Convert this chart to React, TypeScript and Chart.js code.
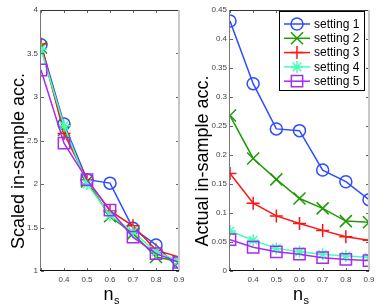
import React, { useEffect, useRef } from "react";
import { Chart, registerables } from "chart.js";
import { drawPoint } from "chart.js/helpers";

Chart.register(...registerables);

const ns = [0.3, 0.4, 0.5, 0.6, 0.7, 0.8, 0.9];
const xTicks = [0.3, 0.4, 0.5, 0.6, 0.7, 0.8, 0.9];
const leftYTicks = [1, 1.5, 2, 2.5, 3, 3.5, 4];
const rightYTicks = [0, 0.05, 0.1, 0.15, 0.2, 0.25, 0.3, 0.35, 0.4, 0.45];

const seriesNames = ["setting 1", "setting 2", "setting 3", "setting 4", "setting 5"];

const scaled1 = [3.6, 2.69, 2.05, 2.01, 1.49, 1.3, 1.02];
const scaled2 = [3.57, 2.62, 2.03, 1.63, 1.43, 1.16, 1.11];
const scaled3 = [3.61, 2.58, 2.05, 1.69, 1.52, 1.24, 1.16];
const scaled4 = [3.55, 2.67, 2.0, 1.64, 1.45, 1.22, 1.12];
const scaled5 = [3.31, 2.47, 2.05, 1.7, 1.39, 1.2, 1.1];

const actual1 = [0.431, 0.323, 0.245, 0.242, 0.174, 0.154, 0.123];
const actual2 = [0.268, 0.194, 0.158, 0.125, 0.108, 0.086, 0.084];
const actual3 = [0.168, 0.117, 0.095, 0.082, 0.07, 0.059, 0.053];
const actual4 = [0.069, 0.053, 0.039, 0.033, 0.029, 0.026, 0.0235];
const actual5 = [0.054, 0.041, 0.033, 0.029, 0.023, 0.02, 0.018];

const colors = ["#2d4dff", "#1f9a05", "#ff1414", "#45ffb5", "#a52cf5"];
const styles = ["circle", "crossRot", "cross", "star", "rect"];
const radii = [6, 8.5, 6.5, 6, 8];

const FONT = "'Liberation Sans', Arial, sans-serif";

function makeDatasets(series: number[][]) {
  return series.map((vals, i) => ({
    label: seriesNames[i],
    data: ns.map((x, j) => ({ x, y: vals[j] })),
    borderColor: colors[i],
    backgroundColor: "rgba(0,0,0,0)",
    borderWidth: 1.5,
    pointStyle: styles[i],
    pointRadius: radii[i],
    pointBorderColor: colors[i],
    pointBackgroundColor: "rgba(0,0,0,0)",
    pointBorderWidth: 1.5,
    tension: 0,
    order: 5 - i,
  }));
}

function decorPlugin(yTitle: string, titleBaseX: number, showLegend: boolean) {
  return {
    id: "decor",
    afterDraw(chart: any) {
      const ctx = chart.ctx;
      const { left, right, top, bottom } = chart.chartArea;
      const xs = chart.scales.x;
      const ys = chart.scales.y;
      ctx.save();
      ctx.strokeStyle = "#666";
      ctx.lineWidth = 1;
      ctx.beginPath();
      xTicks.forEach((v) => {
        const px = Math.round(xs.getPixelForValue(v)) + 0.5;
        ctx.moveTo(px, bottom);
        ctx.lineTo(px, bottom - 3);
        ctx.moveTo(px, top);
        ctx.lineTo(px, top + 3);
      });
      ys.ticks.forEach((t: any) => {
        const py = Math.round(ys.getPixelForValue(t.value)) + 0.5;
        ctx.moveTo(left, py);
        ctx.lineTo(left + 3, py);
        ctx.moveTo(right, py);
        ctx.lineTo(right - 3, py);
      });
      ctx.stroke();
      ctx.strokeStyle = "#333";
      ctx.beginPath();
      ctx.moveTo(left, top + 0.5);
      ctx.lineTo(right, top + 0.5);
      ctx.stroke();
      ctx.strokeStyle = "#c8c8c8";
      ctx.lineWidth = 2;
      ctx.beginPath();
      ctx.moveTo(right, top);
      ctx.lineTo(right, bottom);
      ctx.stroke();
      ctx.lineWidth = 1;
      ctx.strokeStyle = "#777";
      ctx.beginPath();
      ctx.moveTo(left - 0.5, top);
      ctx.lineTo(left - 0.5, bottom);
      ctx.stroke();
      ctx.strokeStyle = "#111";
      ctx.beginPath();
      ctx.moveTo(left - 1, bottom - 0.5);
      ctx.lineTo(right, bottom - 0.5);
      ctx.stroke();
      ctx.fillStyle = "#000";
      ctx.font = `18px ${FONT}`;
      ctx.textAlign = "center";
      ctx.textBaseline = "alphabetic";
      ctx.save();
      ctx.translate(titleBaseX, 161);
      ctx.rotate(-Math.PI / 2);
      ctx.fillText(yTitle, 0, 0);
      ctx.restore();
      const cx = (left + right) / 2;
      ctx.textAlign = "left";
      ctx.font = `18px ${FONT}`;
      const nw = ctx.measureText("n").width;
      const nx = cx - 6.5;
      ctx.fillText("n", nx, 300);
      ctx.font = `11px ${FONT}`;
      ctx.fillText("s", nx + nw + 0.5, 304);
      if (showLegend) {
        const bx = 88.5, by = 11.5, bw = 85, bh = 79;
        ctx.fillStyle = "#fff";
        ctx.fillRect(bx, by, bw, bh);
        ctx.strokeStyle = "#000";
        ctx.lineWidth = 1;
        ctx.strokeRect(bx, by, bw, bh);
        ctx.font = `12px ${FONT}`;
        ctx.textBaseline = "middle";
        ctx.textAlign = "left";
        seriesNames.forEach((name, i) => {
          const ry = 24 + i * 14.3;
          ctx.strokeStyle = colors[i];
          ctx.lineWidth = 1.5;
          ctx.beginPath();
          ctx.moveTo(93, ry);
          ctx.lineTo(119, ry);
          ctx.stroke();
          ctx.fillStyle = "rgba(0,0,0,0)";
          drawPoint(
            ctx,
            { pointStyle: styles[i], radius: radii[i], rotation: 0, borderWidth: 1.5 } as any,
            106,
            ry
          );
          ctx.fillStyle = "#000";
          ctx.fillText(name, 123, ry + 0.5);
        });
      }
      ctx.restore();
    },
  };
}

function makeChart(
  canvas: HTMLCanvasElement,
  series: number[][],
  yTicks: number[],
  yMin: number,
  yMax: number,
  yWidth: number,
  padRight: number,
  yTitle: string,
  titleBaseX: number,
  showLegend: boolean
) {
  return new Chart(canvas, {
    type: "line",
    data: { datasets: makeDatasets(series) as any },
    options: {
      animation: false,
      responsive: false,
      maintainAspectRatio: false,
      layout: { padding: { left: 0, top: 8, right: padRight, bottom: 0 } },
      plugins: { legend: { display: false }, tooltip: { enabled: false } },
      scales: {
        x: {
          type: "linear",
          min: 0.3,
          max: 0.9,
          grid: { display: false, drawTicks: false },
          border: { display: false },
          afterBuildTicks: (s: any) => {
            s.ticks = xTicks.map((v) => ({ value: v }));
          },
          afterFit: (s: any) => {
            s.height = 35;
          },
          ticks: {
            autoSkip: false,
            maxRotation: 0,
            padding: 4,
            color: "#444",
            font: { size: 8, family: FONT },
            callback: (v: any) => (v === 0.3 ? "" : Number(v).toFixed(1)),
          },
        },
        y: {
          type: "linear",
          min: yMin,
          max: yMax,
          grid: { display: false, drawTicks: false },
          border: { display: false },
          afterBuildTicks: (s: any) => {
            s.ticks = yTicks.map((v) => ({ value: v }));
          },
          afterFit: (s: any) => {
            s.width = yWidth;
          },
          ticks: {
            autoSkip: false,
            padding: 3,
            color: "#444",
            font: { size: 8, family: FONT },
            callback: (v: any) => String(v),
          },
        },
      },
    } as any,
    plugins: [decorPlugin(yTitle, titleBaseX, showLegend)],
  });
}

export default function App() {
  const leftRef = useRef<HTMLCanvasElement>(null);
  const rightRef = useRef<HTMLCanvasElement>(null);
  useEffect(() => {
    const c1 = makeChart(
      leftRef.current!,
      [scaled1, scaled2, scaled3, scaled4, scaled5],
      leftYTicks, 1, 4, 41, 12, "Scaled in-sample acc.", 24, false
    );
    const c2 = makeChart(
      rightRef.current!,
      [actual1, actual2, actual3, actual4, actual5],
      rightYTicks, 0, 0.45, 39, 13, "Actual in-sample acc.", 16.5, true
    );
    return () => {
      c1.destroy();
      c2.destroy();
    };
  }, []);
  return (
    <div
      style={{
        position: "fixed",
        left: 0,
        top: 0,
        width: 382,
        height: 306,
        display: "flex",
        background: "#fff",
      }}
    >
      <canvas ref={leftRef} width={191} height={306} style={{ width: 191, height: 306 }} />
      <canvas ref={rightRef} width={191} height={306} style={{ width: 191, height: 306 }} />
    </div>
  );
}
